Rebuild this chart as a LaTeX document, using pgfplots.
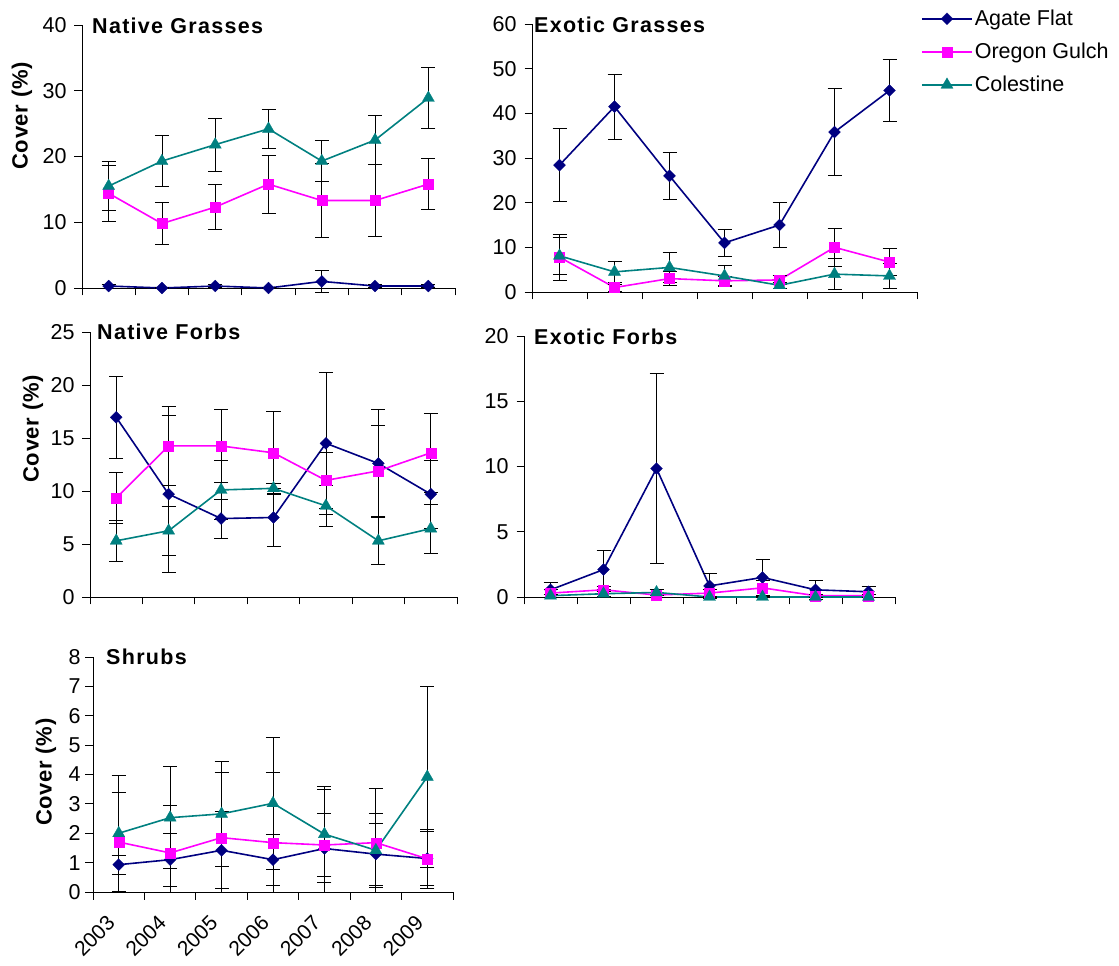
\documentclass[border=0pt]{standalone}
\usepackage{fontspec}
\setmainfont{Liberation Sans}
\usepackage{pgfplots}
\usepackage{pgfplotstable}
\pgfplotsset{compat=1.18}

\definecolor{agateC}{RGB}{0,0,128}
\definecolor{oregonC}{RGB}{255,0,255}
\definecolor{colestineC}{RGB}{0,128,128}

% Native Grasses
\pgfplotstableread{
x a ae o oe c ce
0 0.3 0.3 14.4 4.3 15.5 3.7
1 0.0 0.1 9.8 3.2 19.3 3.9
2 0.3 0.2 12.3 3.4 21.8 4.0
3 0.0 0.1 15.8 4.4 24.2 2.9
4 1.0 1.6 13.3 5.6 19.3 3.1
5 0.3 0.2 13.3 5.5 22.5 3.7
6 0.3 0.2 15.8 3.9 28.9 4.7
}\NG
% Exotic Grasses
\pgfplotstableread{
x a ae o oe c ce
0 28.4 8.2 7.8 5.2 8.1 4.1
1 41.5 7.3 1.0 0.8 4.5 2.3
2 26.0 5.3 3.0 1.6 5.5 3.4
3 11.0 3.0 2.5 1.0 3.6 2.4
4 15.0 5.0 2.7 1.0 1.5 0.6
5 35.8 9.7 10.0 4.2 4.0 3.5
6 45.1 7.0 6.7 3.0 3.6 2.8
}\EG
% Native Forbs
\pgfplotstableread{
x a ae o oe c ce
0 16.95 3.9 9.35 2.45 5.3 1.9
1 9.7 7.4 14.25 3.7 6.25 2.3
2 7.4 1.85 14.25 3.45 10.1 2.8
3 7.5 2.7 13.6 3.9 10.25 0.5
4 14.5 6.7 11.0 2.6 8.6 1.9
5 12.6 5.1 11.9 4.3 5.3 2.25
6 9.7 3.2 13.6 3.7 6.45 2.3
}\NF
% Exotic Forbs
\pgfplotstableread{
x a ae o oe c ce
0 0.55 0.55 0.3 0.3 0.1 0.1
1 2.1 1.5 0.55 0.3 0.25 0.2
2 9.85 7.25 0.15 0.2 0.35 0.2
3 0.85 0.95 0.3 0.3 0.0 0.05
4 1.5 1.4 0.7 0.6 0.0 0.05
5 0.55 0.7 0.1 0.1 0.0 0.0
6 0.4 0.4 0.1 0.1 0.0 0.0
}\EF
% Shrubs
\pgfplotstableread{
x a aep aem o oep oem c ce
0 0.93 0.33 0.33 1.7 1.7 1.7 2.0 1.98
1 1.1 0.9 0.9 1.33 1.63 1.33 2.53 1.74
2 1.42 1.31 1.31 1.85 2.22 1.85 2.66 1.8
3 1.1 0.87 0.87 1.68 2.4 1.68 3.02 2.25
4 1.48 2.0 1.48 1.6 1.06 1.06 1.97 1.63
5 1.29 1.06 1.06 1.68 1.85 1.68 1.42 1.25
6 1.14 0.92 0.92 1.13 1.0 1.0 3.92 3.08
}\SH

\newcommand{\fs}{\fontsize{21.5bp}{25bp}\selectfont}

\tikzset{
  ttl/.style={anchor=west, inner sep=0pt, font=\fs\bfseries\addfontfeatures{LetterSpace=6}},
  ylab/.style={rotate=90, inner sep=0pt, font=\fontsize{22bp}{26bp}\selectfont\bfseries\addfontfeatures{LetterSpace=3}},
}

\pgfplotsset{
  every tick label/.append style={font=\fs},
  panel/.style={
    scale only axis, anchor=south west,
    axis lines*=left, axis line style={-, black, line width=0.8bp},
    xmin=-0.5, xmax=6.5,
    xtick={0,...,6}, xticklabels={},
    minor xtick={-0.5,0.5,...,6.5},
    tick align=outside,
    major tick length=0pt, minor tick length=7.5bp,
    tick style={black, line width=0.8bp},
    yticklabel style={font=\fs, xshift=-12bp},
    clip=false,
    /pgf/number format/assume math mode=true,
  },
  eb/.style={error bars/.cd, y dir=both, y explicit,
    error mark=|,
    error bar style={line width=0.8bp, black, solid},
    error mark options={black, mark size=7bp, line width=0.8bp}},
  sA/.style={color=agateC, line width=1.6bp, mark=square*, mark size=4.2bp, mark options={rotate=45, solid, line width=0.3bp}},
  sO/.style={color=oregonC, line width=1.6bp, mark=square*, mark size=5bp, mark options={solid, line width=0.3bp}},
  sC/.style={color=colestineC, line width=1.6bp, mark=triangle*, mark size=7bp, mark options={solid, line width=0.3bp}},
}

\begin{document}
\begin{tikzpicture}
\path[use as bounding box] (0,0) rectangle (1119bp,966bp);

% Native Grasses
\begin{axis}[panel, at={(82bp,678bp)}, width=373bp, height=263bp,
  ymin=0, ymax=40, ytick={0,10,...,40}, minor ytick={0,10,...,40}]
\addplot[sA, eb] table[x=x, y=a, y error=ae]{\NG};
\addplot[sO, eb] table[x=x, y=o, y error=oe]{\NG};
\addplot[sC, eb] table[x=x, y=c, y error=ce]{\NG};
\node[ttl] at ([xshift=10bp,yshift=-1bp]rel axis cs:0,1) {Native Grasses};
\node[ylab] at ([xshift=-60bp]rel axis cs:0,0.654) {Cover (\%)};
\end{axis}

% Exotic Grasses
\begin{axis}[panel, at={(532bp,674bp)}, width=385bp, height=268bp,
  ymin=0, ymax=60, ytick={0,10,...,60}, minor ytick={0,10,...,60},
  legend cell align=left,
  legend style={draw=none, fill=none, at={(1,1)}, anchor=north west, xshift=4bp, yshift=16bp,
    font=\fs, row sep=12bp, inner sep=0pt},
  legend image code/.code={\draw[mark repeat=2,mark phase=2] plot coordinates {(0bp,0bp) (25bp,0bp) (50bp,0bp)};}]
\addplot[sA, eb] table[x=x, y=a, y error=ae]{\EG};
\addlegendentry{Agate Flat}
\addplot[sO, eb] table[x=x, y=o, y error=oe]{\EG};
\addlegendentry{Oregon Gulch}
\addplot[sC, eb] table[x=x, y=c, y error=ce]{\EG};
\addlegendentry{Colestine}
\node[ttl] at ([xshift=2bp,yshift=-1bp]rel axis cs:0,1) {Exotic Grasses};
\end{axis}

% Native Forbs
\begin{axis}[panel, at={(90bp,369bp)}, width=367bp, height=265bp,
  ymin=0, ymax=25, ytick={0,5,...,25}, minor ytick={0,5,...,25}]
\addplot[sA, eb] table[x=x, y=a, y error=ae]{\NF};
\addplot[sO, eb] table[x=x, y=o, y error=oe]{\NF};
\addplot[sC, eb] table[x=x, y=c, y error=ce]{\NF};
\node[ttl] at ([xshift=7bp]rel axis cs:0,1) {Native Forbs};
\node[ylab] at ([xshift=-57bp]rel axis cs:0,0.634) {Cover (\%)};
\end{axis}

% Exotic Forbs
\begin{axis}[panel, at={(524bp,369bp)}, width=371bp, height=261bp,
  ymin=0, ymax=20, ytick={0,5,...,20}, minor ytick={0,5,...,20}]
\addplot[sA, eb] table[x=x, y=a, y error=ae]{\EF};
\addplot[sO, eb] table[x=x, y=o, y error=oe]{\EF};
\addplot[sC, eb] table[x=x, y=c, y error=ce]{\EF};
\node[ttl] at ([xshift=10bp,yshift=-1bp]rel axis cs:0,1) {Exotic Forbs};
\end{axis}

% Shrubs
\begin{axis}[panel, at={(93bp,74bp)}, width=360bp, height=235bp,
  ymin=0, ymax=8, ytick={0,1,...,8}, minor ytick={0,1,...,8},
  yticklabel style={xshift=3bp},
  xticklabels={2003,2004,2005,2006,2007,2008,2009},
  xticklabel style={font=\fontsize{21bp}{25bp}\selectfont, xshift=-13bp, yshift=-22bp, rotate=45, anchor=north east, inner sep=0pt}]
\addplot[sA, eb] table[x=x, y=a, y error plus=aep, y error minus=aem]{\SH};
\addplot[sO, eb] table[x=x, y=o, y error plus=oep, y error minus=oem]{\SH};
\addplot[sC, eb] table[x=x, y=c, y error=ce]{\SH};
\node[ttl] at ([xshift=13bp]rel axis cs:0,1) {Shrubs};
\node[ylab] at ([xshift=-47bp]rel axis cs:0,0.51) {Cover (\%)};
\end{axis}
\end{tikzpicture}
\end{document}
